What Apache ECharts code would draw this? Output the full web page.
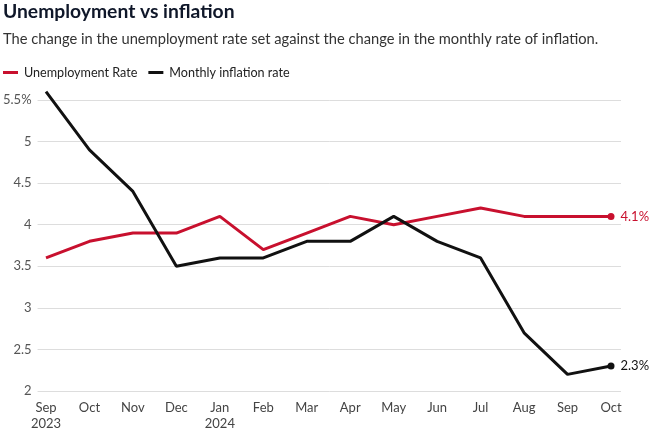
<!DOCTYPE html>
<html><head><meta charset="utf-8">
<script src="https://cdn.jsdelivr.net/npm/echarts@6/dist/echarts.min.js"></script>
<style>html,body{margin:0;padding:0;background:#fff}#c{width:658px;height:440px}</style>
</head><body><div id="c"></div>
<script>
const categories = ['Sep\n2023','Oct','Nov','Dec','Jan\n2024','Feb','Mar','Apr','May','Jun','Jul','Aug','Sep','Oct'];
const unemployment = [3.6,3.8,3.9,3.9,4.1,3.7,3.9,4.1,4.0,4.1,4.2,4.1,4.1,4.1];
const inflation = [5.6,4.9,4.4,3.5,3.6,3.6,3.8,3.8,4.1,3.8,3.6,2.7,2.2,2.3];
const yTicks = [2,2.5,3,3.5,4,4.5,5,5.5];

const FONT = 'Lato, sans-serif';
const RED = '#c8102e', BLACK = '#111111';
const last = categories.length - 1;
function mkSeries(name, data, color){
  return {
    name, type:'line', data, xAxisIndex:1, yAxisIndex:1, clip:false,
    color, lineStyle:{width:3,color}, showSymbol:true, symbol:'circle',
    symbolSize:(v,p)=>p.dataIndex===last?7:0,
    itemStyle:{color},
    label:{show:true, position:'right', distance:6, fontFamily:FONT, fontSize:13, color,
      formatter:p=>p.dataIndex===last?p.value+'%':''},
    emphasis:{disabled:true}, animation:false
  };
}
const chart = echarts.init(document.getElementById('c'));
chart.setOption({
  animation:false,
  title:[
    {text:'Unemployment vs inflation', left:-2, top:-3, textStyle:{fontFamily:FONT, fontWeight:'bold', fontSize:19.3, color:'#0f1729'}},
    {text:'The change in the unemployment rate set against the change in the monthly rate of inflation.', left:-2, top:27, textStyle:{fontFamily:FONT, fontWeight:'normal', fontSize:14.7, color:'#333'}}
  ],
  legend:{left:-2, top:61, icon:'rect', itemWidth:15, itemHeight:3, itemGap:11,
    textStyle:{fontFamily:FONT, fontSize:12.6, color:'#222', padding:[0,0,0,1]},
    data:['Unemployment Rate','Monthly inflation rate']},
  grid:[{left:36, right:37, top:100, bottom:49},{left:46, right:47, top:100, bottom:49}],
  xAxis:[
    {type:'category', gridIndex:0, data:categories, show:false},
    {type:'category', gridIndex:1, data:categories, boundaryGap:false,
      axisLine:{show:false}, axisTick:{show:false},
      axisLabel:{fontFamily:FONT, fontSize:13, color:'#444', margin:9, lineHeight:16, interval:0}}
  ],
  yAxis:[
    {type:'value', gridIndex:0, min:2, max:5.5, interval:0.5,
      axisLine:{show:false}, axisTick:{show:false},
      splitLine:{lineStyle:{color:'#dddddd', width:1}},
      axisLabel:{fontFamily:FONT, fontSize:13, color:'#555', margin:6,
        formatter:v=>yTicks.includes(v)?(v===5.5?'5.5%':String(v)):''}},
    {type:'value', gridIndex:1, min:2, max:5.5, interval:0.5, show:false, splitLine:{show:false}}
  ],
  series:[mkSeries('Unemployment Rate', unemployment, RED), mkSeries('Monthly inflation rate', inflation, BLACK)]
});
</script></body></html>
